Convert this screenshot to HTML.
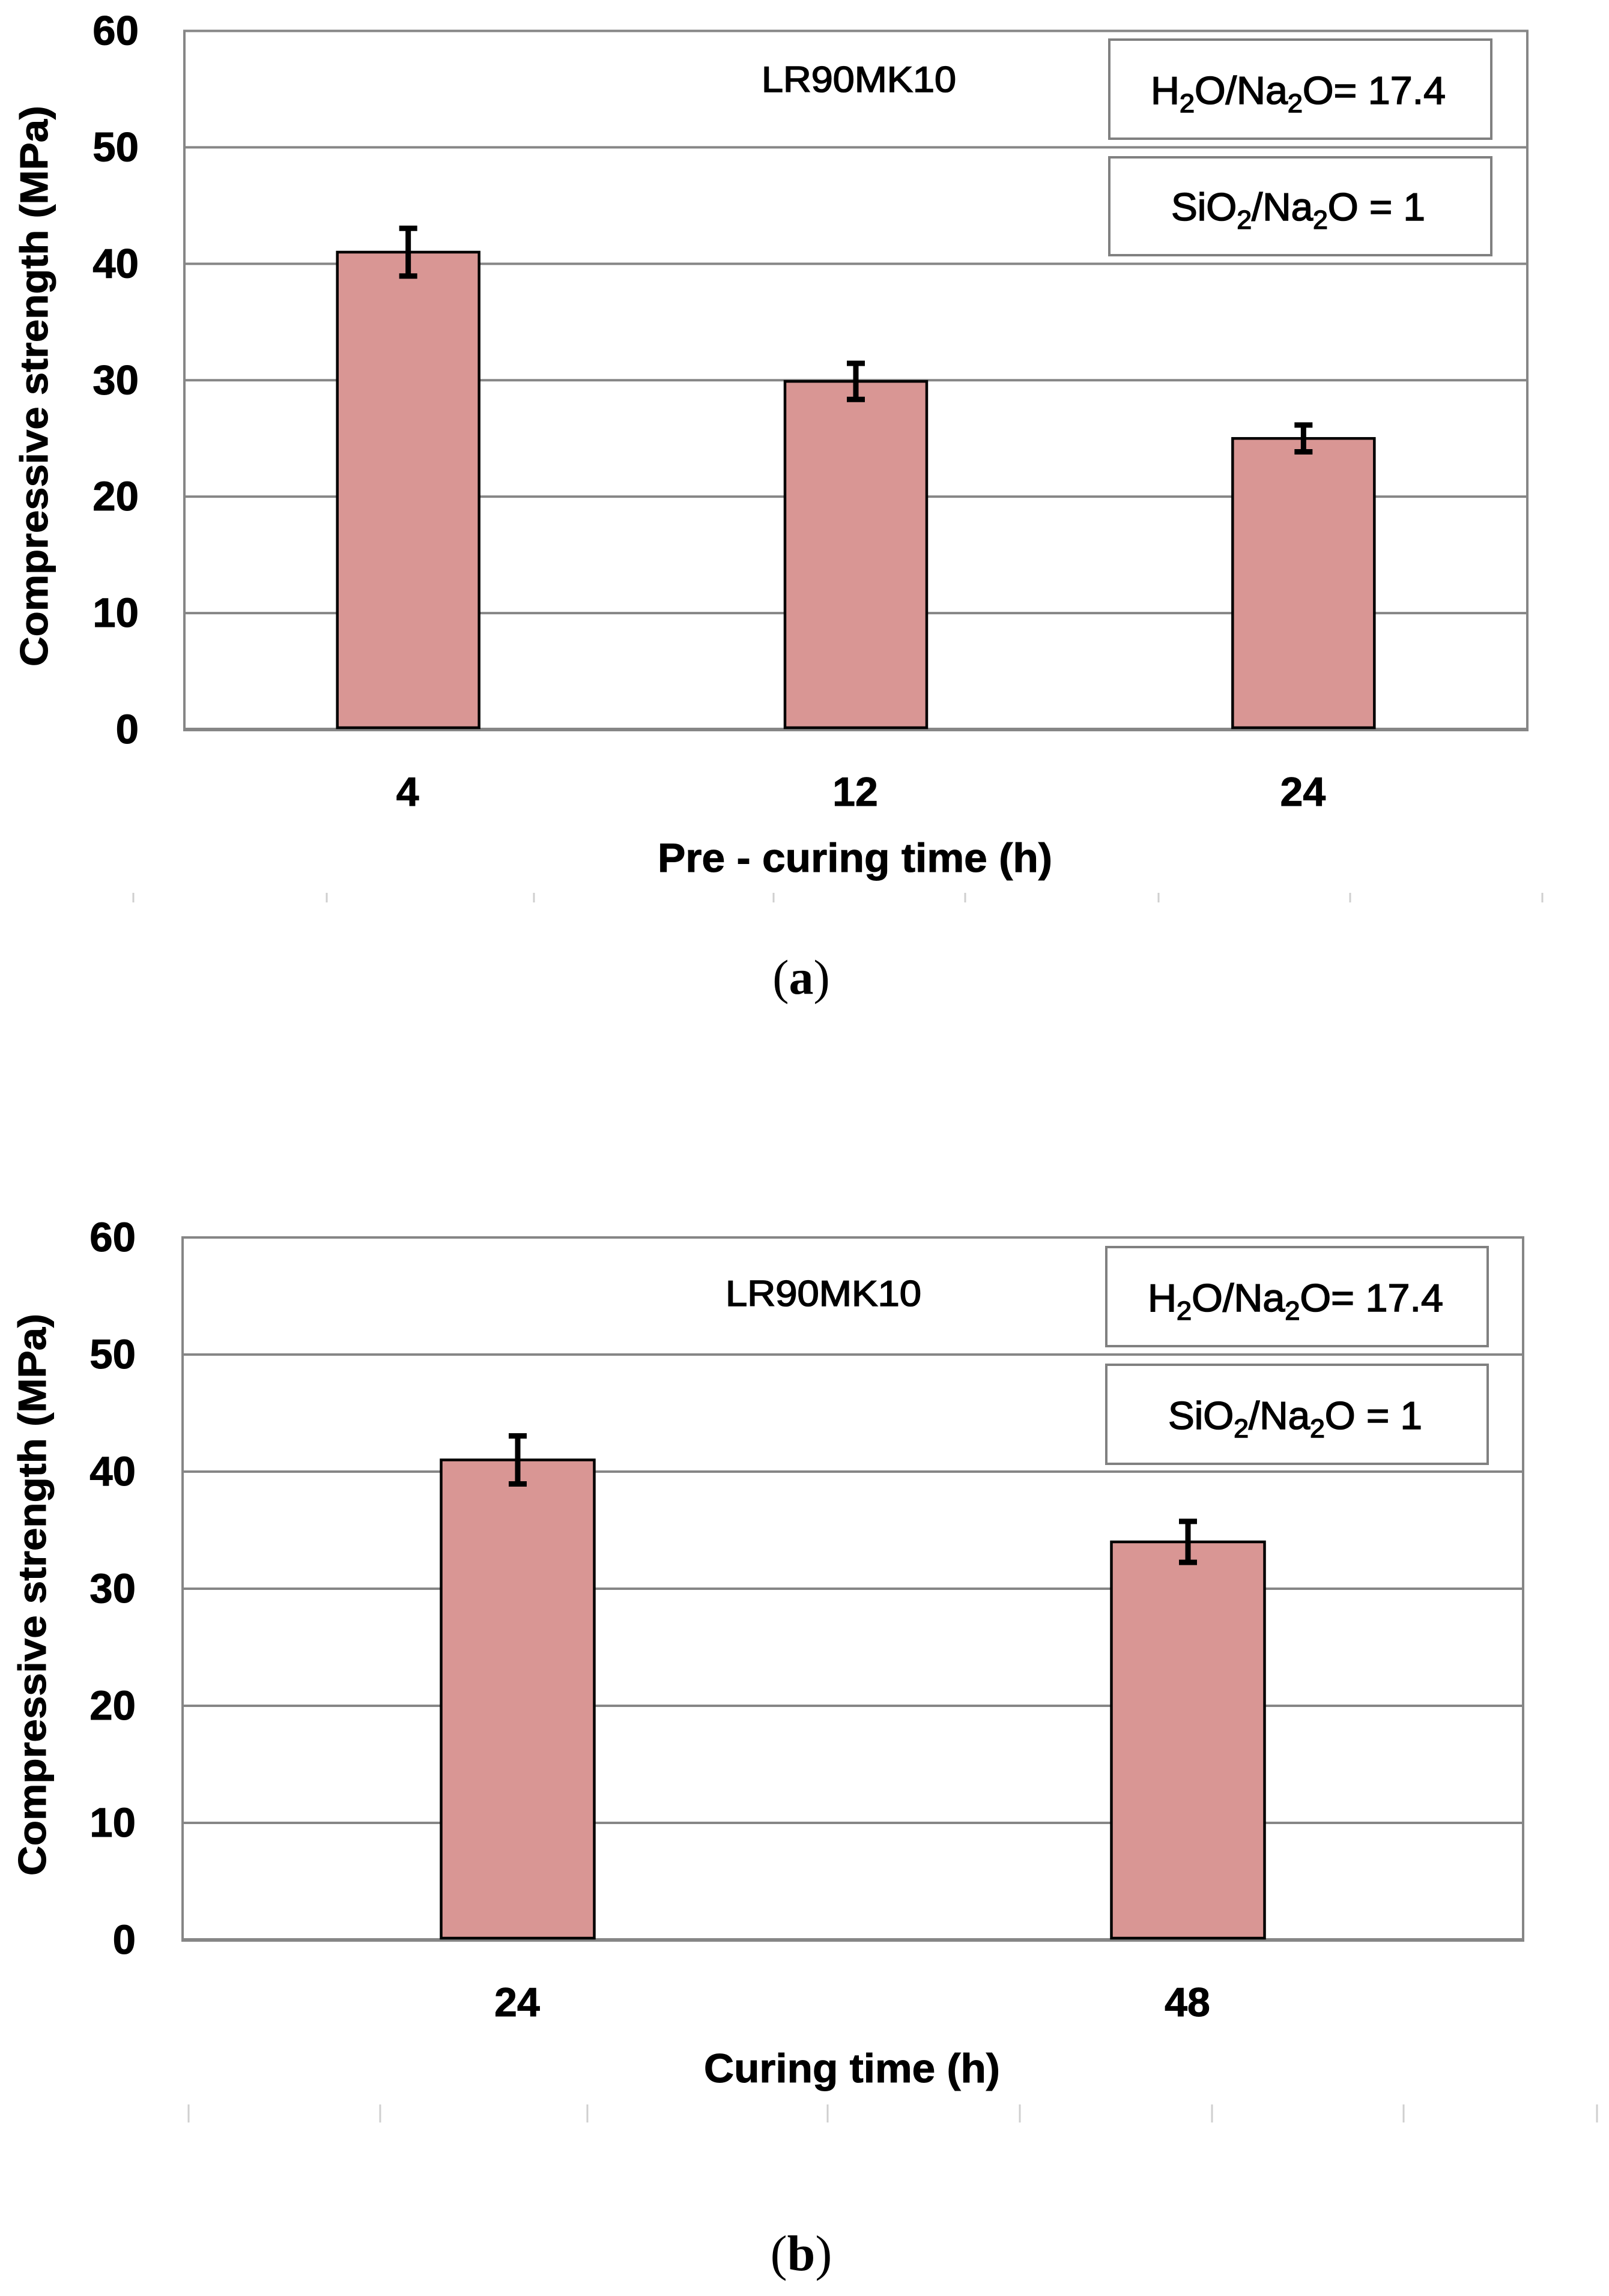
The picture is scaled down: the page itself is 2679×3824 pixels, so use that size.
<!DOCTYPE html>
<html lang="en">
<head>
<meta charset="utf-8">
<title>LR90MK10 compressive strength charts</title>
<style>
html,body{margin:0;padding:0;background:#fff;width:2679px;height:3824px;overflow:hidden}
svg{display:block}
text{font-family:"Liberation Sans",sans-serif;fill:#000}
.b{font-weight:700;stroke:#000;stroke-width:1}
.l{stroke:#000;stroke-width:1.6}
.cap{font-family:"Liberation Serif",serif}
</style>
</head>
<body>
<svg id="figure" xmlns="http://www.w3.org/2000/svg" width="2679" height="3824" viewBox="0 0 2679 3824">
  <rect x="0" y="0" width="2679" height="3824" fill="#fff"/>

  <g id="panel-a"></g>
  <g>
    <text class="l" x="1268" y="153" font-size="60" textLength="324" lengthAdjust="spacingAndGlyphs">LR90MK10</text>
    <rect x="1847" y="66" width="636" height="165" fill="#fff" stroke="#808080" stroke-width="4"/>
    <text class="l" x="1916" y="173" font-size="65" textLength="491" lengthAdjust="spacingAndGlyphs">H<tspan font-size="44" dy="14">2</tspan><tspan dy="-14">O/Na</tspan><tspan font-size="44" dy="14">2</tspan><tspan dy="-14">O= 17.4</tspan></text>
    <rect x="1847" y="262" width="636" height="163" fill="#fff" stroke="#808080" stroke-width="4"/>
    <text class="l" x="1950" y="367" font-size="65" textLength="423" lengthAdjust="spacingAndGlyphs">SiO<tspan font-size="44" dy="14">2</tspan><tspan dy="-14">/Na</tspan><tspan font-size="44" dy="14">2</tspan><tspan dy="-14">O = 1</tspan></text>
    <text class="b" transform="translate(79 643) rotate(-90)" text-anchor="middle" font-size="65" textLength="934" lengthAdjust="spacingAndGlyphs">Compressive strength (MPa)</text>
    <text class="b" x="1095" y="1452" font-size="68" textLength="657" lengthAdjust="spacingAndGlyphs">Pre - curing time (h)</text>
    <text class="cap" x="1334" y="1655" font-size="82" text-anchor="middle">(<tspan font-weight="700">a</tspan>)</text>
  </g>

  <g id="panel-b"></g>
  <g>
    <text class="l" x="1208" y="2175" font-size="60" textLength="326" lengthAdjust="spacingAndGlyphs">LR90MK10</text>
    <rect x="1842" y="2077" width="635" height="165" fill="#fff" stroke="#808080" stroke-width="4"/>
    <text class="l" x="1911" y="2184" font-size="65" textLength="492" lengthAdjust="spacingAndGlyphs">H<tspan font-size="44" dy="14">2</tspan><tspan dy="-14">O/Na</tspan><tspan font-size="44" dy="14">2</tspan><tspan dy="-14">O= 17.4</tspan></text>
    <rect x="1842" y="2273" width="635" height="165" fill="#fff" stroke="#808080" stroke-width="4"/>
    <text class="l" x="1945" y="2380" font-size="65" textLength="423" lengthAdjust="spacingAndGlyphs">SiO<tspan font-size="44" dy="14">2</tspan><tspan dy="-14">/Na</tspan><tspan font-size="44" dy="14">2</tspan><tspan dy="-14">O = 1</tspan></text>
    <text class="b" transform="translate(76 2656) rotate(-90)" text-anchor="middle" font-size="65" textLength="936" lengthAdjust="spacingAndGlyphs">Compressive strength (MPa)</text>
    <text class="b" x="1172" y="3468" font-size="68" textLength="493" lengthAdjust="spacingAndGlyphs">Curing time (h)</text>
    <text class="cap" x="1334" y="3781" font-size="84" text-anchor="middle">(<tspan font-weight="700">b</tspan>)</text>
  </g>

  <g stroke="#cfcfcf" stroke-width="3">
    <line x1="222" x2="222" y1="1487" y2="1503"/>
    <line x1="544" x2="544" y1="1487" y2="1503"/>
    <line x1="889" x2="889" y1="1487" y2="1503"/>
    <line x1="1288" x2="1288" y1="1487" y2="1503"/>
    <line x1="1607" x2="1607" y1="1487" y2="1503"/>
    <line x1="1929" x2="1929" y1="1487" y2="1503"/>
    <line x1="2248" x2="2248" y1="1487" y2="1503"/>
    <line x1="2568" x2="2568" y1="1487" y2="1503"/>
  </g>
  <g stroke="#cfcfcf" stroke-width="3">
    <line x1="314" x2="314" y1="3505" y2="3535"/>
    <line x1="633" x2="633" y1="3505" y2="3535"/>
    <line x1="978" x2="978" y1="3505" y2="3535"/>
    <line x1="1378" x2="1378" y1="3505" y2="3535"/>
    <line x1="1698" x2="1698" y1="3505" y2="3535"/>
    <line x1="2018" x2="2018" y1="3505" y2="3535"/>
    <line x1="2337" x2="2337" y1="3505" y2="3535"/>
    <line x1="2659" x2="2659" y1="3505" y2="3535"/>
  </g>
</svg>

<script>
// Chart data
const yTicks = [0, 10, 20, 30, 40, 50, 60];
const yMax = 60;
const categoriesA = ['4', '12', '24'];
const strengthA = [41, 29.9, 25];
const errorA = [2.05, 1.55, 1.15];
const categoriesB = ['24', '48'];
const strengthB = [41, 34];
const errorB = [2.05, 1.75];

const SVG_NS = 'http://www.w3.org/2000/svg';

function svgEl(tag, attrs) {
  const node = document.createElementNS(SVG_NS, tag);
  for (const key in attrs) node.setAttribute(key, attrs[key]);
  return node;
}

function drawPanel(root, frame, categories, values, errors) {
  const yScale = v => frame.bottom - (v / yMax) * (frame.bottom - frame.top);
  const band = (frame.right - frame.left) / categories.length;
  const xCenter = i => frame.left + band * (i + 0.5);

  yTicks.forEach(tick => {
    const y = yScale(tick);
    const grid = svgEl('line', {x1: frame.left, x2: frame.right, y1: y, y2: y, stroke: '#868686', 'stroke-width': tick === 0 ? 6 : 4});
    
    
    root.appendChild(grid);

    const label = svgEl('text', {x: frame.tickRight, y: y + 23, 'font-size': 69, 'font-weight': 700, 'text-anchor': 'end', stroke: '#000', 'stroke-width': 1});
    
    
    label.textContent = String(tick);
    root.appendChild(label);
  });

  const leftAxis = svgEl('line', {x1: frame.left, x2: frame.left, y1: frame.top - 2, y2: frame.bottom + 3, stroke: '#868686', 'stroke-width': 4});
  
  
  root.appendChild(leftAxis);

  const rightAxis = svgEl('line', {x1: frame.right, x2: frame.right, y1: frame.top - 2, y2: frame.bottom + 3, stroke: '#868686', 'stroke-width': 4});
  
  
  root.appendChild(rightAxis);

  categories.forEach((category, i) => {
    const cx = xCenter(i);
    const top = yScale(values[i]);

    const bar = svgEl('rect', {x: cx - frame.barWidth / 2, y: top, width: frame.barWidth, height: frame.bottom - top - 3, fill: '#d99694', stroke: '#000', 'stroke-width': 4.5});
    
    
    root.appendChild(bar);

    const hi = yScale(values[i] + errors[i]);
    const lo = yScale(values[i] - errors[i]);

    const stem = svgEl('line', {x1: cx, x2: cx, y1: hi, y2: lo, stroke: '#000', 'stroke-width': 9});
    
    
    root.appendChild(stem);

    const capHigh = svgEl('line', {x1: cx - 15, x2: cx + 15, y1: hi, y2: hi, stroke: '#000', 'stroke-width': 9});
    
    
    root.appendChild(capHigh);

    const capLow = svgEl('line', {x1: cx - 15, x2: cx + 15, y1: lo, y2: lo, stroke: '#000', 'stroke-width': 9});
    
    
    root.appendChild(capLow);

    const xLabel = svgEl('text', {x: cx - 1, y: frame.bottom + frame.xLabelDrop, 'font-size': 68, 'font-weight': 700, 'text-anchor': 'middle', stroke: '#000', 'stroke-width': 1});
    
    
    xLabel.textContent = category;
    root.appendChild(xLabel);
  });
}

drawPanel(document.getElementById('panel-a'),
  {left: 307, right: 2543, top: 51.5, bottom: 1215, barWidth: 236, tickRight: 231, xLabelDrop: 127},
  categoriesA, strengthA, errorA);

drawPanel(document.getElementById('panel-b'),
  {left: 304, right: 2536, top: 2061, bottom: 3231, barWidth: 255, tickRight: 226, xLabelDrop: 127},
  categoriesB, strengthB, errorB);
</script>
</body>
</html>
